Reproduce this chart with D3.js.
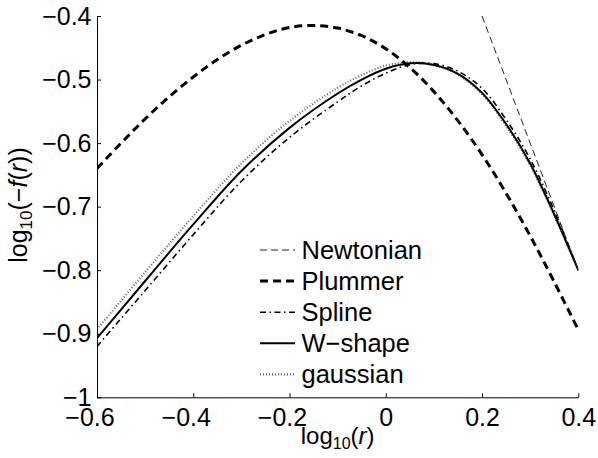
<!DOCTYPE html>
<html><head><meta charset="utf-8">
<script src="https://cdn.jsdelivr.net/npm/d3@7"></script>
<style>
body{margin:0;background:#fff;}
svg{display:block;}
text{font-family:"Liberation Sans",Arial,Helvetica,sans-serif;}
</style></head>
<body>
<svg id="chart" width="598" height="458"></svg>
<script>
// ---- data ----
const xTicks = [-0.6, -0.4, -0.2, 0, 0.2, 0.4];
const yTicks = [-1, -0.9, -0.8, -0.7, -0.6, -0.5, -0.4];
const seriesNames = ["Newtonian", "Plummer", "Spline", "W\u2212shape", "gaussian"];

const newtonianX = [0.2, 0.4];
const newtonianY = [-0.4, -0.8];

const plummerX = [-0.6,-0.55,-0.5,-0.45,-0.4,-0.35,-0.3,-0.25,-0.2,-0.15,-0.1,-0.05,0,0.05,0.1,0.15,0.2,0.25,0.3,0.35,0.4];
const plummerY = [-0.640,-0.600,-0.562,-0.527,-0.496,-0.4685,-0.446,-0.429,-0.418,-0.415,-0.419,-0.431,-0.4515,-0.481,-0.519,-0.565,-0.618,-0.679,-0.746,-0.8185,-0.894];

const softX = [-0.6,-0.5,-0.4,-0.3,-0.2,-0.1,-0.05,0,0.05,0.1,0.15,0.2,0.25,0.3,0.35,0.4];
const splineY   = [-0.920,-0.832,-0.744,-0.660,-0.591,-0.535,-0.510,-0.490,-0.4765,-0.475,-0.487,-0.514,-0.563,-0.625,-0.706,-0.800];
const wshapeY   = [-0.907,-0.817,-0.728,-0.644,-0.576,-0.522,-0.500,-0.483,-0.4745,-0.477,-0.491,-0.521,-0.570,-0.632,-0.712,-0.800];
const gaussianY = [-0.893,-0.803,-0.715,-0.632,-0.565,-0.513,-0.493,-0.478,-0.4725,-0.477,-0.492,-0.523,-0.573,-0.635,-0.714,-0.800];

// ---- layout ----
const svg = d3.select("#chart");
const x = d3.scaleLinear().domain([-0.6, 0.4]).range([97, 578.3]);
const y = d3.scaleLinear().domain([-1, -0.4]).range([397.3, 16]);

const styles = {
  "Newtonian": {stroke:"#222", width:1, dash:"7,4"},
  "Plummer":   {stroke:"#000", width:3, dash:"8,5"},
  "Spline":    {stroke:"#000", width:1.6, dash:"6,3.5,1.5,3.5"},
  "W\u2212shape": {stroke:"#000", width:2, dash:null},
  "gaussian":  {stroke:"#666", width:2.2, dash:"1,2"}
};

const series = [
  {name:"gaussian", xs:softX, ys:gaussianY},
  {name:"Spline", xs:softX, ys:splineY},
  {name:"W\u2212shape", xs:softX, ys:wshapeY},
  {name:"Plummer", xs:plummerX, ys:plummerY},
  {name:"Newtonian", xs:newtonianX, ys:newtonianY}
];

const line = d3.line().x(d => x(d[0])).y(d => y(d[1])).curve(d3.curveCatmullRom.alpha(0.5));

svg.append("clipPath").attr("id","clip").append("rect")
  .attr("x", 97).attr("y", 16).attr("width", 481.3).attr("height", 381.3);

const g = svg.append("g").attr("clip-path","url(#clip)");
series.forEach(s => {
  const st = styles[s.name];
  g.append("path")
    .datum(s.xs.map((v,i) => [v, s.ys[i]]))
    .attr("d", line)
    .attr("fill","none")
    .attr("stroke", st.stroke)
    .attr("stroke-width", st.width)
    .attr("stroke-dasharray", st.dash);
});

// ---- axes ----
const fmt = d => d === 0 ? "0" : (d < 0 ? "\u2212" : "") + String(Math.abs(d));
const xAxis = svg.append("g").attr("transform", `translate(0,${y(-1)})`)
  .call(d3.axisBottom(x).tickValues(xTicks).tickSize(-4).tickSizeOuter(0).tickPadding(11).tickFormat(fmt));
const yAxis = svg.append("g").attr("transform", `translate(${x(-0.6)},0)`)
  .call(d3.axisLeft(y).tickValues(yTicks).tickSize(-4).tickSizeOuter(0).tickPadding(5.5).tickFormat(fmt));
[xAxis, yAxis].forEach(a => {
  a.selectAll("text").attr("font-size", 25).attr("fill","#000")
    .attr("font-family","Liberation Sans, Arial, sans-serif");
  a.selectAll("line,path").attr("stroke","#000").attr("stroke-width",1);
});
xAxis.selectAll(".tick text").attr("dx", d => d < 0 ? -7.5 : 0);

// ---- axis titles ----
const serif = "Liberation Serif, Times New Roman, serif";
const xt = svg.append("text").attr("x", 337.7).attr("y", 444).attr("text-anchor","middle")
  .attr("font-family", serif).attr("font-size", 24);
xt.append("tspan").text("log");
xt.append("tspan").attr("font-size", 16).attr("dy", 5).text("10");
xt.append("tspan").attr("dy", -5).text("(");
xt.append("tspan").attr("font-style","italic").text("r");
xt.append("tspan").text(")");

const yt = svg.append("text").attr("transform", "translate(27,205) rotate(-90)")
  .attr("text-anchor","middle").attr("font-family", serif).attr("font-size", 25);
yt.append("tspan").text("log");
yt.append("tspan").attr("font-size", 17).attr("dy", 5).text("10");
yt.append("tspan").attr("dy", -5).text("(\u2212");
yt.append("tspan").attr("font-style","italic").text("f");
yt.append("tspan").text("(");
yt.append("tspan").attr("font-style","italic").text("r");
yt.append("tspan").text("))");

// ---- legend ----
const legendY0 = 250, legendDy = 31.1;
const lg = svg.append("g");
seriesNames.forEach((name, i) => {
  const st = styles[name];
  const cy = legendY0 + i * legendDy;
  lg.append("line").attr("x1", 260).attr("x2", 295).attr("y1", cy).attr("y2", cy)
    .attr("stroke", st.stroke).attr("stroke-width", st.width).attr("stroke-dasharray", st.dash);
  lg.append("text").attr("x", 301.5).attr("y", cy + 9).attr("font-size", 25.5)
    .attr("fill","#000").text(name);
});
</script>
</body></html>
